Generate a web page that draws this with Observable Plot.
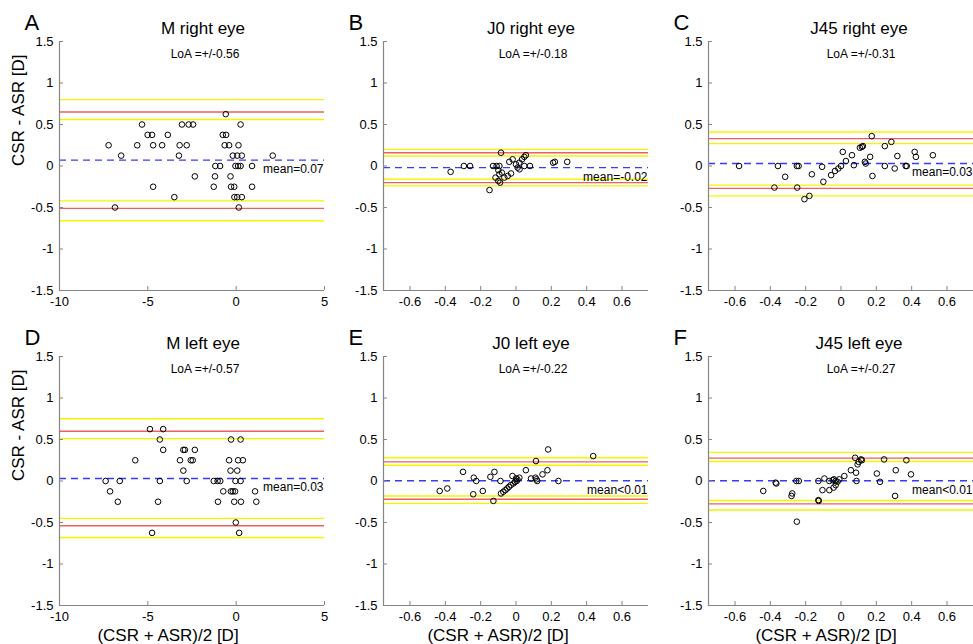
<!DOCTYPE html>
<html>
<head>
<meta charset="utf-8">
<script src="https://cdn.jsdelivr.net/npm/d3@7"></script>
<script src="https://cdn.jsdelivr.net/npm/@observablehq/plot@0.6"></script>
<style>
  html, body { margin: 0; padding: 0; background: #fff; overflow: hidden; }
  #wrap { position: relative; width: 973px; height: 644px; overflow: hidden; }
  #wrap svg { position: absolute; overflow: visible; }
</style>
</head>
<body>
<div id="wrap"></div>
<script>
// ---------- data ----------
const letters = ["A", "B", "C", "D", "E", "F"];
const titles = ["M right eye", "J0 right eye", "J45 right eye", "M left eye", "J0 left eye", "J45 left eye"];
const loaLabels = ["LoA =+/-0.56", "LoA =+/-0.18", "LoA =+/-0.31", "LoA =+/-0.57", "LoA =+/-0.22", "LoA =+/-0.27"];
const meanLabels = ["mean=0.07", "mean=-0.02", "mean=0.03", "mean=0.03", "mean<0.01", "mean<0.01"];
const meanValues = [0.07, -0.02, 0.03, 0.03, 0.003, 0.003];
const redUpper = [0.65, 0.16, 0.33, 0.60, 0.23, 0.276];
const redLower = [-0.51, -0.20, -0.27, -0.54, -0.22, -0.275];
const yellowUpperOuter = [0.80, 0.20, 0.41, 0.75, 0.28, 0.345];
const yellowUpperInner = [0.56, 0.12, 0.27, 0.51, 0.19, 0.235];
const yellowLowerInner = [-0.42, -0.16, -0.23, -0.45, -0.18, -0.235];
const yellowLowerOuter = [-0.66, -0.24, -0.36, -0.68, -0.27, -0.35];

const yTicks = [-1.5, -1, -0.5, 0, 0.5, 1, 1.5];
const xTicksM = [-10, -5, 0, 5];
const xTicksJ = [-0.6, -0.4, -0.2, 0, 0.2, 0.4, 0.6];
const xDomainM = [-10, 5];
const xDomainJ = [-0.75, 0.75];

// A: M right eye
const mRightX = [-0.59,
  -5.33, -3.07, -2.69, -2.44, 0.25,
  -5.01, -4.76, -3.87, -0.76, -0.57,
  -7.22, -5.6, -4.70, -4.19, -3.2, -2.8, -0.65, -0.4, 0.13,
  -6.51, -3.24, -0.19, 0.06, 0.32, 2.07,
  -1.18, -0.91, -0.04, 0.11, 0.25, 0.9,
  -2.34, -1.2, -0.32,
  -4.70, -1.27, -0.29, -0.11, 0.9,
  -3.5, -0.1, 0.06, 0.32,
  -6.86, 0.15];
const mRightY = [0.625,
  0.5, 0.5, 0.5, 0.5, 0.5,
  0.375, 0.375, 0.375, 0.375, 0.375,
  0.25, 0.25, 0.25, 0.25, 0.25, 0.25, 0.25, 0.25, 0.25,
  0.125, 0.125, 0.125, 0.125, 0.125, 0.125,
  0, 0, 0, 0, 0, 0,
  -0.125, -0.125, -0.125,
  -0.25, -0.25, -0.25, -0.25, -0.25,
  -0.375, -0.375, -0.375, -0.375,
  -0.5, -0.5];

// B: J0 right eye
const j0RightX = [-0.37, -0.295, -0.26, -0.085, -0.15, -0.13, -0.11, -0.094, -0.10, -0.094,
  -0.08, -0.10, -0.09, -0.066, -0.047, -0.028, -0.038, -0.019, 0, 0.019,
  0.034, 0.047, 0.056, 0.009, 0.02, 0.047, 0.079, 0.21, 0.22, 0.29, -0.116];
const j0RightY = [-0.07, 0, 0, 0.16, -0.29, 0, 0, 0, -0.05, -0.10,
  -0.08, -0.18, -0.20, -0.14, -0.12, -0.09, 0.05, 0.08, 0.02, 0.04,
  0.08, 0.11, 0.13, -0.02, -0.04, 0, 0, 0.04, 0.05, 0.05, -0.14];

// C: J45 right eye
const j45RightX = [-0.577, -0.377, -0.357, -0.316, -0.25, -0.24, -0.248, -0.207, -0.179, -0.165,
  -0.107, -0.10, -0.056, -0.034, -0.015, 0, 0.01, 0.028, 0.062, 0.073,
  0.107, 0.118, 0.124, 0.135, 0.14, 0.165, 0.174, 0.178, 0.248, 0.248,
  0.285, 0.304, 0.319, 0.366, 0.372, 0.417, 0.424, 0.52];
const j45RightY = [0, -0.26, 0, -0.13, 0, 0, -0.26, -0.40, -0.36, -0.10,
  -0.01, -0.19, -0.11, -0.06, -0.03, 0, 0.17, 0.06, 0.13, 0.01,
  0.22, 0.23, 0.24, 0.05, 0.03, 0.11, 0.36, -0.12, 0.24, 0,
  0.29, -0.03, 0.12, 0, 0, 0.17, 0.11, 0.13];

// D: M left eye
const mLeftX = [-4.88, -4.13,
  -4.32, -0.29, 0.25,
  -4.13, -2.99, -2.9, -2.34,
  -5.71, -3.18, -2.57, -2.46, -0.4, 0.11, 0.38,
  -2.99, -0.32, 0.06,
  -7.39, -6.59, -4.32, -2.8, -1.27, -1.05, -0.9, -0.04, 0.25,
  -7.14, -0.73, -0.3, -0.19, -0.06, 1.07,
  -6.7, -4.42, -1.03, -0.11, 0.27, 1.14,
  -0.02,
  -4.76, 0.17];
const mLeftY = [0.625, 0.625,
  0.5, 0.5, 0.5,
  0.375, 0.375, 0.375, 0.375,
  0.25, 0.25, 0.25, 0.25, 0.25, 0.25, 0.25,
  0.125, 0.125, 0.125,
  0, 0, 0, 0, 0, 0, 0, 0, 0,
  -0.125, -0.125, -0.125, -0.125, -0.125, -0.125,
  -0.25, -0.25, -0.25, -0.25, -0.25, -0.25,
  -0.5,
  -0.625, -0.625];

// E: J0 left eye
const j0LeftX = [-0.432, -0.389, -0.30, -0.239, -0.225, -0.242, -0.188, -0.145, -0.122, -0.128,
  -0.088, -0.085, -0.072, -0.06, -0.05, -0.04, -0.03, -0.015, -0.005, 0.008,
  0.019, -0.02, 0, 0.004, 0.056, 0.085, 0.113, 0.11, 0.116, 0.12,
  0.15, 0.178, 0.182, 0.24, 0.437];
const j0LeftY = [-0.12, -0.09, 0.11, 0.04, 0, -0.16, -0.12, 0.05, 0.11, -0.24,
  0, -0.15, -0.13, -0.11, -0.09, -0.07, -0.05, -0.03, -0.01, 0.02,
  0.04, 0.06, 0.03, 0, 0.13, 0.03, 0.24, 0.04, 0.02, 0,
  0.08, 0.13, 0.38, 0, 0.30];

// F: J45 left eye
const j45LeftX = [-0.44, -0.366, -0.37, -0.276, -0.28, -0.253, -0.239, -0.25, -0.128, -0.128,
  -0.126, -0.105, -0.094, -0.066, -0.066, -0.047, -0.04, -0.03, -0.02, -0.01,
  -0.042, -0.03, 0.019, 0.056, 0.08, 0.085, 0.088, 0.094, 0.10, 0.113,
  0.118, 0.203, 0.221, 0.244, 0.31, 0.306, 0.37, 0.396];
const j45LeftY = [-0.12, -0.03, -0.02, -0.15, -0.18, 0, 0, -0.49, 0, -0.23,
  -0.24, -0.11, 0.03, 0, -0.11, 0.01, 0.02, 0, -0.01, 0.02,
  -0.08, -0.05, 0.06, 0.13, 0.28, 0.10, 0, 0.20, 0.23, 0.26,
  0.25, 0.09, -0.01, 0.26, 0.13, -0.18, 0.25, 0.08];

const panelXs = [mRightX, j0RightX, j45RightX, mLeftX, j0LeftX, j45LeftX];
const panelYs = [mRightY, j0RightY, j45RightY, mLeftY, j0LeftY, j45LeftY];

const yLabel = "CSR - ASR [D]";
const xLabel = "(CSR + ASR)/2 [D]";

// ---------- layout ----------
const FONT = "'Liberation Sans', Arial, Helvetica, sans-serif";
const colLeft = [0, 324, 649];
const rowTop = [0, 315];
const rowHeight = [315, 329];
const rowMarginBottom = [25, 39];
const W = 325, ML = 59, MR = 1, MT = 41;
const frameW = W - ML - MR;
const frameH = 249;
const titleDx = [11, 15, 18];
const xlabelDx = [-24, -18, -15];

const YELLOW = "#f5f500", RED = "#ef5f5f", BLUE = "#3a3aff", AXIS = "#858585";
const fmt = d => String(d);

const wrap = document.getElementById("wrap");

for (let i = 0; i < 6; i++) {
  const row = Math.floor(i / 3), col = i % 3;
  const isM = col === 0;
  const xDomain = isM ? xDomainM : xDomainJ;
  const xTicks = isM ? xTicksM : xTicksJ;
  const pts = panelXs[i].map((x, k) => ({x, y: panelYs[i][k]}));
  const yellows = [yellowUpperOuter[i], yellowUpperInner[i], yellowLowerInner[i], yellowLowerOuter[i]];
  const reds = [redUpper[i], redLower[i]];

  const marks = [
    Plot.ruleY(yellows, {stroke: YELLOW, strokeWidth: 1.4}),
    Plot.ruleY(reds, {stroke: RED, strokeWidth: 1.4}),
    Plot.ruleY([meanValues[i]], {stroke: BLUE, strokeWidth: 1.3, strokeDasharray: "7,5"}),
    Plot.dot(pts, {x: "x", y: "y", r: 2.8, stroke: "black", strokeWidth: 1, fill: "none"}),
    Plot.ruleX([xDomain[0]], {stroke: AXIS, strokeWidth: 1.2}),
    Plot.ruleY([yTicks[0]], {stroke: AXIS, strokeWidth: 1.2}),
    Plot.tickY(yTicks, {y: d => d, insetRight: frameW - 4, stroke: AXIS}),
    Plot.tickX(xTicks, {x: d => d, insetTop: frameH - 4, stroke: AXIS}),
    Plot.axisY({ticks: yTicks, tickFormat: fmt, tickSize: 0, tickPadding: 6, fontSize: 13, label: null}),
    Plot.axisX({ticks: xTicks, tickFormat: fmt, tickSize: 0, tickPadding: 6, fontSize: 13, label: null}),
    Plot.text([meanLabels[i]], {y: () => meanValues[i], text: d => d, frameAnchor: "right", textAnchor: "end", dx: -1, dy: 9, fontSize: 12}),
    Plot.text([titles[i]], {text: d => d, frameAnchor: "top", lineAnchor: "bottom", dy: -8, dx: titleDx[col], fontSize: 17}),
    Plot.text([loaLabels[i]], {text: d => d, frameAnchor: "top", lineAnchor: "bottom", dy: 16, dx: titleDx[col] + 2, fontSize: 12}),
    Plot.text([letters[i]], {text: d => d, frameAnchor: "top-left", textAnchor: "start", lineAnchor: "bottom", dx: -35, dy: -12, fontSize: 22})
  ];
  if (col === 0) {
    marks.push(Plot.text([yLabel], {text: d => d, frameAnchor: "left", rotate: -90, dx: -41, fontSize: 17}));
  }
  if (row === 1) {
    marks.push(Plot.text([xLabel], {text: d => d, frameAnchor: "bottom", lineAnchor: "middle", dy: 30, dx: xlabelDx[col], fontSize: 17}));
  }

  const svg = Plot.plot({
    width: W,
    height: rowHeight[row],
    marginLeft: ML,
    marginRight: MR,
    marginTop: MT,
    marginBottom: rowMarginBottom[row],
    x: {domain: xDomain},
    y: {domain: [yTicks[0], yTicks[yTicks.length - 1]]},
    style: {fontFamily: FONT, fontSize: "13px", color: "black", background: "transparent"},
    marks
  });
  svg.style.left = colLeft[col] + "px";
  svg.style.top = rowTop[row] + "px";
  wrap.appendChild(svg);
}
</script>
</body>
</html>
